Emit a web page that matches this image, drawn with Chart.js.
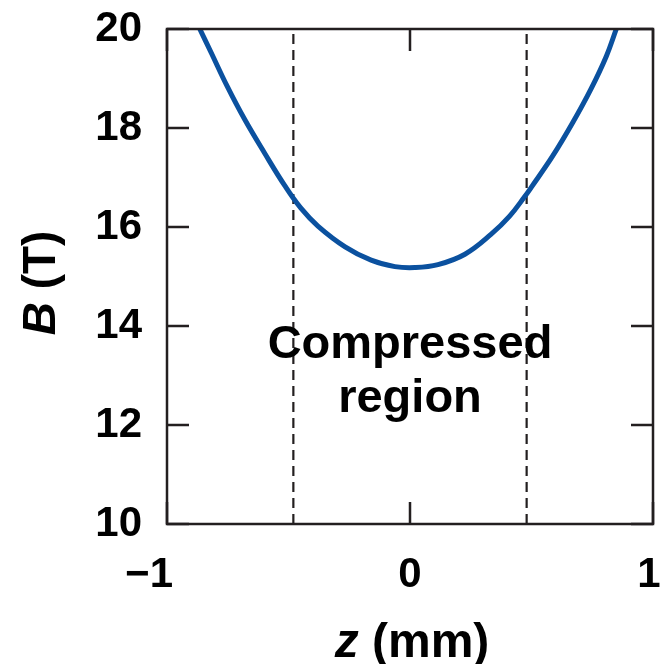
<!DOCTYPE html>
<html>
<head>
<meta charset="utf-8">
<script src="https://cdn.jsdelivr.net/npm/chart.js@4/dist/chart.umd.min.js"></script>
<style>
  html, body { margin: 0; padding: 0; background: #fff; }
  #wrap { width: 660px; height: 664px; position: relative; }
</style>
</head>
<body>
<div id="wrap"><canvas id="ch"></canvas></div>
<script>
// field profile: z (mm) -> B (T)
var zVals = [-0.865, -0.818, -0.752, -0.680, -0.598, -0.516, -0.449, -0.379, -0.267, -0.160, -0.062, 0.020, 0.115, 0.226, 0.333, 0.410, 0.473, 0.499, 0.588, 0.671, 0.746, 0.808, 0.849];
var bVals = [20.00, 19.52, 18.84, 18.17, 17.49, 16.84, 16.38, 16.02, 15.60, 15.33, 15.20, 15.18, 15.24, 15.45, 15.85, 16.22, 16.62, 16.80, 17.44, 18.12, 18.80, 19.45, 20.00];
// edges of the compressed region (dashed lines)
var regionEdges = [-0.48, 0.48];
var xTicks = [-1, 0, 1];
var xTickLabels = ['\u22121', '0', '1'];
var yTicks = [10, 12, 14, 16, 18, 20];
var noteLines = ['Compressed', 'region'];

var FONT = '"Liberation Sans", Arial, Helvetica, sans-serif';
var INK = '#231f20';
var BLUE = '#0b519f';

var curve = zVals.map(function (z, i) { return { x: z, y: bVals[i] }; });
var edgeSets = regionEdges.map(function (z) {
  return { data: [{ x: z, y: 10 }, { x: z, y: 20 }], showLine: true, borderColor: INK,
    borderWidth: 2.2, borderDash: [10, 6], pointRadius: 0, tension: 0 };
});

var framePlugin = {
  id: 'frame',
  afterDatasetsDraw: function (chart) {
    var ctx = chart.ctx, a = chart.chartArea, xs = chart.scales.x, ys = chart.scales.y;
    var TL = 22;
    ctx.save();
    ctx.strokeStyle = INK; ctx.lineWidth = 2.5;
    ctx.strokeRect(a.left, a.top, a.right - a.left, a.bottom - a.top);
    ctx.beginPath();
    yTicks.forEach(function (v) {
      var p = ys.getPixelForValue(v);
      ctx.moveTo(a.left, p); ctx.lineTo(a.left + TL, p);
      ctx.moveTo(a.right, p); ctx.lineTo(a.right - TL, p);
    });
    xTicks.forEach(function (v) {
      var p = xs.getPixelForValue(v);
      ctx.moveTo(p, a.top); ctx.lineTo(p, a.top + TL);
      ctx.moveTo(p, a.bottom); ctx.lineTo(p, a.bottom - TL);
    });
    ctx.stroke();

    // x tick labels (minus sign hangs to the left, as in the figure)
    ctx.fillStyle = '#000';
    ctx.font = 'bold 42px ' + FONT;
    ctx.textBaseline = 'middle';
    xTicks.forEach(function (v, i) {
      var p = xs.getPixelForValue(v);
      if (i === 0) { ctx.textAlign = 'right'; ctx.fillText(xTickLabels[i], p + 6, a.bottom + 51); }
      else if (i === xTicks.length - 1) { ctx.textAlign = 'center'; ctx.fillText(xTickLabels[i], p - 4, a.bottom + 51); }
      else { ctx.textAlign = 'center'; ctx.fillText(xTickLabels[i], p, a.bottom + 51); }
    });

    // x title: italic z + " (mm)"
    ctx.textBaseline = 'alphabetic';
    ctx.textAlign = 'left';
    var f1 = 'italic bold 48px ' + FONT, f2 = 'bold 48px ' + FONT;
    ctx.font = f1; var w1 = ctx.measureText('z').width;
    ctx.font = f2; var w2 = ctx.measureText(' (mm)').width;
    var cx = xs.getPixelForValue(0) + 2, x0 = cx - (w1 + w2) / 2;
    ctx.font = f1; ctx.fillText('z', x0, 657);
    ctx.font = f2; ctx.fillText(' (mm)', x0 + w1, 657);

    // y title: italic B + " (T)", rotated
    var g1 = 'italic bold 46px ' + FONT, g2 = 'bold 46px ' + FONT;
    ctx.save();
    ctx.translate(55, 283);
    ctx.rotate(-Math.PI / 2);
    ctx.font = g1; var v1 = ctx.measureText('B').width;
    ctx.font = g2; var v2 = ctx.measureText(' (T)').width;
    var y0 = -(v1 + v2) / 2;
    ctx.font = g1; ctx.fillText('B', y0, 0);
    ctx.font = g2; ctx.fillText(' (T)', y0 + v1, 0);
    ctx.restore();

    // annotation
    ctx.textAlign = 'center';
    ctx.font = 'bold 47px ' + FONT;
    ctx.fillText(noteLines[0], xs.getPixelForValue(0), ys.getPixelForValue(13.36));
    ctx.fillText(noteLines[1], xs.getPixelForValue(0), ys.getPixelForValue(12.27));
    ctx.restore();
  }
};

new Chart(document.getElementById('ch'), {
  type: 'scatter',
  data: {
    datasets: [{
      data: curve, showLine: true, borderColor: BLUE, borderWidth: 5,
      pointRadius: 0, tension: 0.4, borderCapStyle: 'round'
    }].concat(edgeSets)
  },
  options: {
    responsive: true, maintainAspectRatio: false, animation: false,
    layout: { padding: { top: 29, right: 7, left: 0, bottom: 0 } },
    plugins: { legend: { display: false }, tooltip: { enabled: false } },
    scales: {
      x: {
        type: 'linear', min: -1, max: 1,
        ticks: { display: false }, grid: { display: false }, border: { display: false },
        afterFit: function (s) { s.height = 140; s.paddingLeft = 0; s.paddingRight = 0; }
      },
      y: {
        min: 10, max: 20,
        afterBuildTicks: function (s) { s.ticks = yTicks.map(function (v) { return { value: v }; }); },
        ticks: { color: '#000', padding: 25, font: { family: FONT, size: 42, weight: 'bold' } },
        grid: { display: false, drawTicks: false }, border: { display: false },
        afterFit: function (s) { s.width = 167; s.paddingTop = 0; s.paddingBottom = 0; }
      }
    }
  },
  plugins: [framePlugin]
});
</script>
</body>
</html>
